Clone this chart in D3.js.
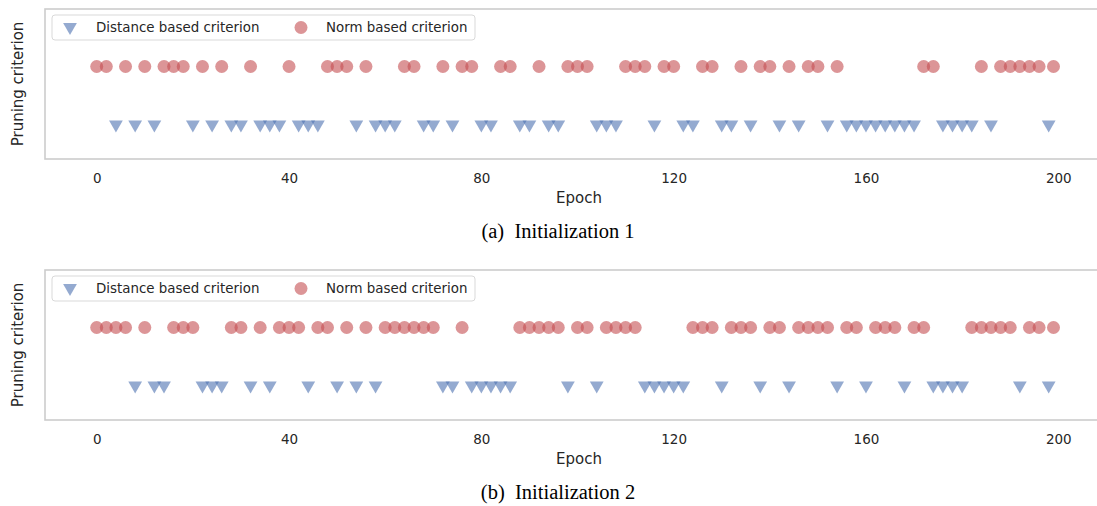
<!DOCTYPE html>
<html>
<head>
<meta charset="utf-8">
<script src="https://cdn.jsdelivr.net/npm/d3@7"></script>
<style>
  html, body { margin: 0; padding: 0; background: #fff; }
  svg { display: block; }
</style>
</head>
<body>
<svg id="chart" width="1097" height="506"></svg>
<script>
// Epochs at which each pruning criterion was selected
const init1Norm = [0, 2, 6, 10, 14, 16, 18, 22, 26, 32, 40, 48, 50, 52, 56, 64, 66, 72, 76, 78, 84, 86, 92, 98, 100, 102, 110, 112, 114, 118, 120, 126, 128, 134, 138, 140, 144, 148, 150, 154, 172, 174, 184, 188, 190, 192, 194, 196, 199];
const init1Distance = [4, 8, 12, 20, 24, 28, 30, 34, 36, 38, 42, 44, 46, 54, 58, 60, 62, 68, 70, 74, 80, 82, 88, 90, 94, 96, 104, 106, 108, 116, 122, 124, 130, 132, 136, 142, 146, 152, 156, 158, 160, 162, 164, 166, 168, 170, 176, 178, 180, 182, 186, 198];
const init2Norm = [0, 2, 4, 6, 10, 16, 18, 20, 28, 30, 34, 38, 40, 42, 46, 48, 52, 56, 60, 62, 64, 66, 68, 70, 76, 88, 90, 92, 94, 96, 100, 102, 106, 108, 110, 112, 124, 126, 128, 132, 134, 136, 140, 142, 146, 148, 150, 152, 156, 158, 162, 164, 166, 170, 172, 182, 184, 186, 188, 190, 194, 196, 199];
const init2Distance = [8, 12, 14, 22, 24, 26, 32, 36, 44, 50, 54, 58, 72, 74, 78, 80, 82, 84, 86, 98, 104, 114, 116, 118, 120, 122, 130, 138, 144, 154, 160, 168, 174, 176, 178, 180, 192, 198];

const xTicks = [0, 40, 80, 120, 160, 200];
const seriesNames = ["Distance based criterion", "Norm based criterion"];
const captions = ["(a)  Initialization 1", "(b)  Initialization 2"];

const panels = [
  { distance: init1Distance, norm: init1Norm, caption: captions[0], top: 9 },
  { distance: init2Distance, norm: init2Norm, caption: captions[1], top: 270 }
];

const svg = d3.select("#chart");
const blue = "#4C72B0", red = "#C44E52";
const sansFont = "DejaVu Sans, sans-serif";

const left = 45, right = 1100, plotH = 150;
const x = d3.scaleLinear().domain([0, 200]).range([96.7, 1058.3]);

const tri = d3.symbol().type(d3.symbolTriangle).size(82);

panels.forEach(p => {
  const g = svg.append("g").attr("transform", `translate(0,${p.top})`);
  // criterion row: 0 = distance, 1 = norm
  const y = d3.scaleLinear().domain([0, 1]).range([115.5, 57.5]);

  // frame
  g.append("rect")
    .attr("x", left).attr("y", 0)
    .attr("width", right - left).attr("height", plotH)
    .attr("fill", "none").attr("stroke", "#cccccc").attr("stroke-width", 1.6);

  // x axis tick labels
  const axis = d3.axisBottom(x).tickValues(xTicks).tickSize(0).tickPadding(0);
  const ax = g.append("g").attr("transform", `translate(0,${plotH})`).call(axis);
  ax.select(".domain").remove();
  ax.selectAll("text")
    .attr("dy", "0")
    .attr("y", 24)
    .attr("fill", "#262626")
    .style("font-family", sansFont)
    .style("font-size", "13.5px");

  // markers
  g.append("g").selectAll("path")
    .data(p.distance)
    .join("path")
    .attr("d", tri)
    .attr("transform", d => `translate(${x(d)},${y(0)}) rotate(180)`)
    .attr("fill", blue).attr("fill-opacity", 0.6);

  g.append("g").selectAll("circle")
    .data(p.norm)
    .join("circle")
    .attr("cx", d => x(d)).attr("cy", y(1)).attr("r", 6.5)
    .attr("fill", red).attr("fill-opacity", 0.6);

  // axis titles
  g.append("text")
    .attr("x", (left + 1097) / 2 + 8).attr("y", plotH + 44)
    .attr("text-anchor", "middle")
    .attr("fill", "#262626")
    .style("font-family", sansFont).style("font-size", "15px")
    .text("Epoch");

  g.append("text")
    .attr("transform", `translate(23,${plotH / 2}) rotate(-90)`)
    .attr("text-anchor", "middle")
    .attr("fill", "#262626")
    .style("font-family", sansFont).style("font-size", "15px")
    .text("Pruning criterion");

  // legend
  const lg = g.append("g").attr("transform", "translate(52,6)");
  lg.append("rect")
    .attr("width", 423).attr("height", 25).attr("rx", 3)
    .attr("fill", "#fff").attr("stroke", "#d9d9d9").attr("stroke-width", 1);
  lg.append("path")
    .attr("d", tri)
    .attr("transform", "translate(18,12) rotate(180)")
    .attr("fill", blue).attr("fill-opacity", 0.6);
  lg.append("text")
    .attr("x", 44).attr("y", 17)
    .attr("fill", "#262626")
    .style("font-family", sansFont).style("font-size", "13.4px")
    .text(seriesNames[0]);
  lg.append("circle")
    .attr("cx", 249).attr("cy", 12.5).attr("r", 6.5)
    .attr("fill", red).attr("fill-opacity", 0.6);
  lg.append("text")
    .attr("x", 274).attr("y", 17)
    .attr("fill", "#262626")
    .style("font-family", sansFont).style("font-size", "13.4px")
    .text(seriesNames[1]);

  // caption
  g.append("text")
    .attr("x", 558).attr("y", plotH + 79)
    .attr("text-anchor", "middle")
    .attr("fill", "#000")
    .style("font-family", "Liberation Serif, Times New Roman, serif")
    .style("font-size", "20.5px")
    .style("white-space", "pre")
    .text(p.caption);
});
</script>
</body>
</html>
